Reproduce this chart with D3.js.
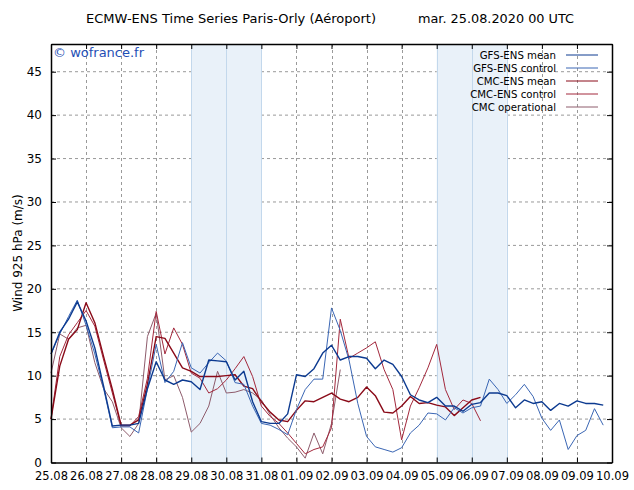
<!DOCTYPE html>
<html><head><meta charset="utf-8">
<script src="https://cdn.jsdelivr.net/npm/d3@7"></script>
<style>body{margin:0;background:#fff;}svg{display:block;font-family:Tahoma,"DejaVu Sans",sans-serif;}</style>
</head><body><svg id="c" width="634" height="490"></svg>
<script>
const dayLabels = ["25.08","26.08","27.08","28.08","29.08","30.08","31.08","01.09","02.09","03.09","04.09","05.09","06.09","07.09","08.09","09.09","10.09"];
const yTicks = [0,5,10,15,20,25,30,35,40,45];
const stepHours = 6;
const weekendBands = [[4,6],[11,13]]; // day index ranges
const gfsMean = [12.5,15.0,16.5,18.5,16.3,13.2,8.8,4.2,4.3,4.3,4.5,8.5,11.6,9.5,9.0,9.5,9.3,8.4,11.8,11.7,11.6,9.5,10.5,7.0,4.7,4.5,4.5,5.6,10.1,9.9,10.8,12.6,13.5,11.8,12.2,12.2,12.0,10.8,11.8,11.3,9.9,7.8,7.2,6.9,7.5,6.5,6.5,5.9,6.7,6.9,8.0,8.0,7.7,6.3,7.2,6.8,7.0,6.0,6.8,6.5,7.1,6.8,6.8,6.6];
const gfsCtrl = [12.5,14.8,16.8,18.7,15.8,12.5,8.5,4.0,4.1,4.1,3.4,8.5,13.6,9.2,10.5,13.8,10.9,10.3,11.5,12.6,11.7,9.2,9.0,6.5,4.5,4.3,3.8,3.2,6.1,8.4,9.6,9.6,17.8,15.2,11.8,6.8,3.0,1.8,1.5,1.2,1.7,3.4,4.3,5.7,5.6,4.9,6.3,5.7,6.3,6.5,9.6,8.4,6.8,7.8,9.0,7.6,5.1,3.7,4.9,1.5,3.1,3.7,6.2,4.3];
const cmcMean = [5.0,11.1,14.2,15.3,18.4,16.1,12.2,8.4,4.3,4.3,4.9,9.0,14.5,14.3,12.6,10.9,10.5,9.9,9.9,9.9,10.0,10.1,8.8,8.5,7.0,5.8,4.9,4.7,6.0,7.1,7.0,7.5,8.0,7.3,7.0,7.5,8.7,7.7,5.8,5.7,6.5,7.6,6.8,6.9,6.6,6.4,5.4,6.3,7.2,7.5];
const cmcCtrl = [5.0,12.2,14.7,16.1,17.5,15.7,11.8,8.0,4.2,4.2,5.3,9.7,17.4,12.5,15.5,13.6,10.3,9.7,8.0,8.5,9.5,10.8,12.2,9.9,6.5,5.3,4.5,3.4,2.2,1.0,1.5,1.8,4.0,16.5,12.0,12.6,13.2,13.9,10.7,8.4,2.6,6.5,8.6,10.9,13.6,8.4,6.1,7.2,6.8,4.8];
const cmcOper = [10.3,14.8,14.2,15.5,15.8,11.5,8.5,7.0,4.0,3.0,4.5,14.5,17.2,9.5,10.0,7.5,3.5,4.5,6.5,10.5,8.0,8.1,8.4,8.0,7.2,5.5,4.0,2.8,1.8,0.5,3.4,1.0,4.5,10.7];

const series = [
  {name:"GFS-ENS mean", data:gfsMean, color:"#0c3a90", w:1.4},
  {name:"GFS-ENS control", data:gfsCtrl, color:"#3a66b4", w:1},
  {name:"CMC-ENS mean", data:cmcMean, color:"#8a0a18", w:1.4},
  {name:"CMC-ENS control", data:cmcCtrl, color:"#a3283c", w:1},
  {name:"CMC operational", data:cmcOper, color:"#8e5c6c", w:1}
];

const svg = d3.select("#c");
const L=51, R=612, T=44, B=462.5;
const x = d3.scaleLinear().domain([0,16]).range([L,R]);
const y = d3.scaleLinear().domain([0,48.19]).range([B,T]);

// grid
const g = svg.append("g");
g.selectAll(".hg").data(yTicks.filter(v=>v>0)).enter().append("line")
  .attr("x1",L).attr("x2",R).attr("y1",d=>y(d)).attr("y2",d=>y(d))
  .attr("stroke","#9a9a9a").attr("stroke-dasharray","3,3").attr("stroke-width",1);
g.selectAll(".vg").data(d3.range(1,16)).enter().append("line")
  .attr("y1",T).attr("y2",B).attr("x1",d=>Math.round(x(d))+0.5).attr("x2",d=>Math.round(x(d))+0.5)
  .attr("stroke","#9a9a9a").attr("stroke-dasharray","3,3").attr("stroke-width",1);

// bands
weekendBands.forEach(b=>{
  svg.append("rect").attr("x",x(b[0])).attr("y",T).attr("width",x(b[1])-x(b[0])).attr("height",B-T)
    .attr("fill","#e9f1f9");
  d3.range(b[0],b[1]+1).forEach(d=>{
    svg.append("line").attr("x1",Math.round(x(d))+0.5).attr("x2",Math.round(x(d))+0.5).attr("y1",T).attr("y2",B)
      .attr("stroke","#c3d8ec").attr("stroke-width",1);
  });
});

// series
const line = d3.line().x((d,i)=>x(i*stepHours/24)).y(d=>y(d));
series.slice().reverse().forEach(s=>{
  svg.append("path").datum(s.data).attr("d",line).attr("fill","none")
    .attr("stroke",s.color).attr("stroke-width",s.w).attr("stroke-linejoin","round");
});

// frame and axes
const axB = d3.axisBottom(x).tickValues(d3.range(0,17)).tickFormat((d,i)=>dayLabels[i]).tickSizeInner(-5).tickSizeOuter(0).tickPadding(9);
const axL = d3.axisLeft(y).tickValues(yTicks).tickSizeInner(-5).tickSizeOuter(0).tickPadding(9);
const axT = d3.axisTop(x).tickValues(d3.range(0,17)).tickFormat("").tickSizeInner(-5).tickSizeOuter(0);
const axR = d3.axisRight(y).tickValues(yTicks).tickFormat("").tickSizeInner(-5).tickSizeOuter(0);
function style(sel){sel.select(".domain").attr("stroke","#000").attr("stroke-width",1.5);sel.selectAll(".tick line").attr("stroke","#000");sel.selectAll("text").attr("fill","#000");}
svg.append("g").attr("transform",`translate(0,${B})`).call(axB).call(style).selectAll("text").attr("font-size",11.5).attr("font-family","Tahoma,'DejaVu Sans',sans-serif");
svg.append("g").attr("transform",`translate(${L},0)`).call(axL).call(style).selectAll("text").attr("font-size",12).attr("font-family","Tahoma,'DejaVu Sans',sans-serif");
svg.append("g").attr("transform",`translate(0,${T})`).call(axT).call(style);
svg.append("g").attr("transform",`translate(${R},0)`).call(axR).call(style);

// titles
svg.append("text").attr("x",86).attr("y",23).attr("font-size",13).attr("textLength",290).attr("lengthAdjust","spacingAndGlyphs").text("ECMW-ENS Time Series Paris-Orly (Aéroport)");
svg.append("text").attr("x",418).attr("y",23).attr("font-size",13).attr("textLength",156).attr("lengthAdjust","spacingAndGlyphs").text("mar. 25.08.2020 00 UTC");
svg.append("text").attr("transform","translate(22,253) rotate(-90)").attr("text-anchor","middle").attr("font-size",12).text("Wind 925 hPa (m/s)");
svg.append("text").attr("x",53).attr("y",57).attr("font-size",13).attr("fill","#1f4fb5").text("© wofrance.fr");

// legend
const lg = svg.append("g");
series.forEach((s,i)=>{
  const yy = 55 + i*13;
  lg.append("text").attr("x",556).attr("y",yy+4).attr("text-anchor","end").attr("font-size",10.2).text(s.name);
  lg.append("line").attr("x1",566).attr("x2",598).attr("y1",yy).attr("y2",yy).attr("stroke",s.color).attr("stroke-width",1);
});
</script></body></html>
